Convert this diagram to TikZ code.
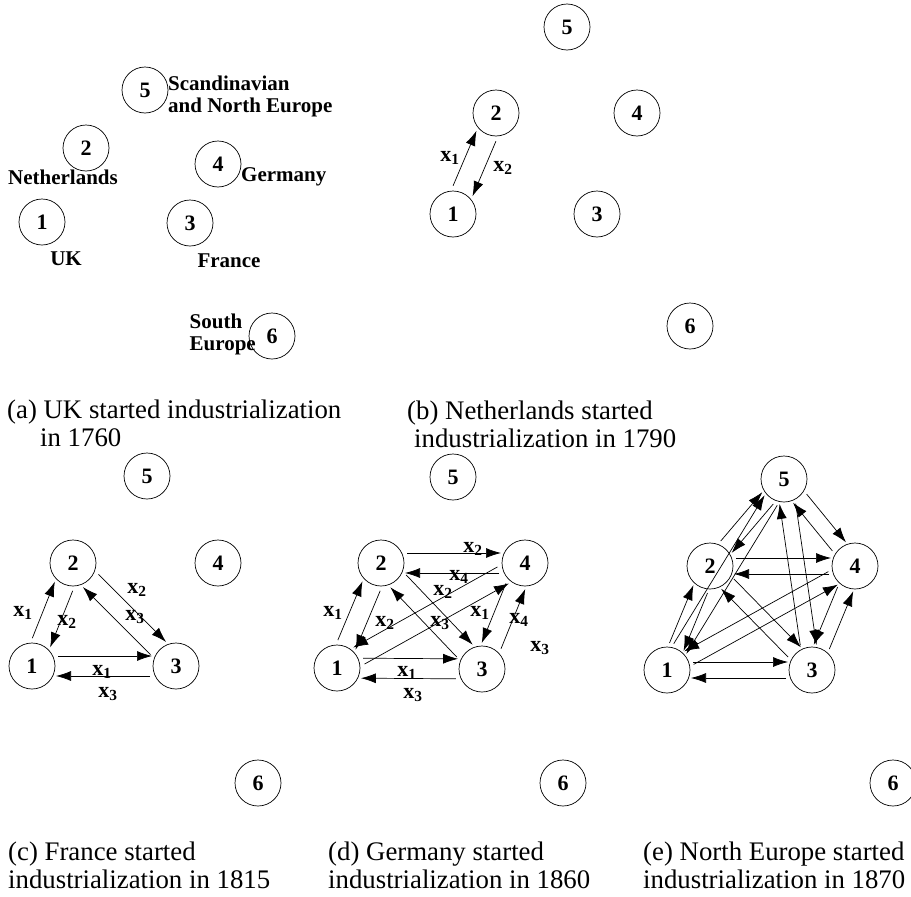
\documentclass[tikz,border=0pt]{standalone}
\usepackage{fontspec}
\setmainfont{Liberation Serif}
\usetikzlibrary{arrows.meta,calc}

\newcommand{\xs}[1]{\textbf{x}\textsubscript{\textbf{#1}}}
% arrow from #2 to #3, kept #4 (pt) to the left of the centre line
\newcommand{\flow}[4][]{\draw[flow,#1] ($(#2)!#4pt!90:(#3)$) -- ($(#3)!#4pt!-90:(#2)$);}

\begin{document}
\begin{tikzpicture}[x=1pt,y=-1pt,
  country/.style={circle,draw,line width=0.7pt,minimum size=46pt,inner sep=0pt,font=\fontsize{22}{22}\selectfont\bfseries},
  flow/.style={-{Latex[length=15pt,width=10pt]},line width=0.7pt,shorten <=26pt,shorten >=24pt},
  lab/.style={font=\fontsize{22}{22}\selectfont,inner sep=0pt},
  region/.style={font=\fontsize{21}{22}\selectfont\bfseries,inner sep=0pt,align=left},
  caption/.style={font=\fontsize{26.8}{28}\selectfont,align=left,anchor=west,inner sep=0pt}]
  \useasboundingbox (0,0) rectangle (911,897);
  % ---------- (a) UK
  \node[country] (a5) at (145,90) {5};
  \node[country] (a2) at (86,148) {2};
  \node[country] (a4) at (218,164) {4};
  \node[country] (a1) at (42,222) {1};
  \node[country] (a3) at (190,223) {3};
  \node[country] (a6) at (272,336) {6};
  \node[region,anchor=west] (ra5) at (168,96) {Scandinavian\\and North Europe};
  \node[region] (ra2) at (63,177) {Netherlands};
  \node[region,anchor=west] (ra4) at (241,177) {Germany};
  \node[region] (ra1) at (66,259) {UK};
  \node[region] (ra3) at (229,261) {France};
  \node[region,anchor=east] (ra6) at (256,334) {South\\Europe};
  \node[caption] (capa) at (7,423) {(a) UK started industrialization\\\hspace*{33pt}in 1760};
  % ---------- (b) Netherlands
  \node[country] (b5) at (567,27) {5};
  \node[country] (b2) at (496,113) {2};
  \node[country] (b4) at (637,113) {4};
  \node[country] (b1) at (453,214) {1};
  \node[country] (b3) at (597,214) {3};
  \node[country] (b6) at (690,326) {6};
  \flow{b1}{b2}{11} \flow{b2}{b1}{11}
  \node[lab] (bl1) at (450,158) {\xs1};
  \node[lab] (bl2) at (503,168) {\xs2};
  \node[caption] (capb) at (407,424) {(b) Netherlands started\\\hspace*{7pt}industrialization in 1790};
  % ---------- (c) France
  \node[country] (c5) at (147,476) {5};
  \node[country] (c2) at (73,563) {2};
  \node[country] (c4) at (218,563) {4};
  \node[country] (c1) at (32,666) {1};
  \node[country] (c3) at (176,666) {3};
  \node[country] (c6) at (258,783) {6};
  \flow{c1}{c2}{10} \flow{c2}{c1}{10}
  \flow{c2}{c3}{10} \flow{c3}{c2}{10}
  \flow{c1}{c3}{10} \flow{c3}{c1}{10}
  \node[lab] (cl1) at (23,613) {\xs1};
  \node[lab] (cl2) at (67,622) {\xs2};
  \node[lab] (cl3) at (137,590) {\xs2};
  \node[lab] (cl4) at (135,617) {\xs3};
  \node[lab] (cl5) at (102,672) {\xs1};
  \node[lab] (cl6) at (108,694) {\xs3};
  \node[caption] (capc) at (8,865) {(c) France started\\industrialization in 1815};
  % ---------- (d) Germany
  \node[country] (d5) at (453,477) {5};
  \node[country] (d2) at (381,563) {2};
  \node[country] (d4) at (525,563) {4};
  \node[country] (d1) at (337,668) {1};
  \node[country] (d3) at (482,669) {3};
  \node[country] (d6) at (563,783) {6};
  \flow{d1}{d2}{10} \flow{d2}{d1}{10}
  \flow{d2}{d4}{10} \flow{d4}{d2}{10}
  \flow{d2}{d3}{10} \flow{d3}{d2}{10}
  \flow{d1}{d3}{10} \flow{d3}{d1}{10}
  \flow{d4}{d1}{-10} \flow{d1}{d4}{-10}
  \flow{d4}{d3}{-10} \flow{d3}{d4}{-10}
  \node[lab] (dl1) at (473,549) {\xs2};
  \node[lab] (dl2) at (459,577) {\xs4};
  \node[lab] (dl3) at (333,613) {\xs1};
  \node[lab] (dl4) at (385,623) {\xs2};
  \node[lab] (dl5) at (443,592) {\xs2};
  \node[lab] (dl6) at (440,623) {\xs3};
  \node[lab] (dl7) at (480,613) {\xs1};
  \node[lab] (dl8) at (519,620) {\xs4};
  \node[lab] (dl9) at (540,648) {\xs3};
  \node[lab] (dl10) at (407,673) {\xs1};
  \node[lab] (dl11) at (413,695) {\xs3};
  \node[caption] (capd) at (328,865) {(d) Germany started\\industrialization in 1860};
  % ---------- (e) North Europe
  \node[country] (e5) at (784,479) {5};
  \node[country] (e2) at (710,566) {2};
  \node[country] (e4) at (855,566) {4};
  \node[country] (e1) at (667,670) {1};
  \node[country] (e3) at (812,670) {3};
  \node[country] (e6) at (893,783) {6};
  \flow{e1}{e2}{8} \flow{e2}{e1}{8}
  \flow{e1}{e3}{8} \flow{e3}{e1}{8}
  \flow{e1}{e4}{-8} \flow{e4}{e1}{-8}
  \flow{e1}{e5}{8} \flow{e5}{e1}{8}
  \flow{e2}{e3}{8} \flow{e3}{e2}{8}
  \flow{e2}{e4}{8} \flow{e4}{e2}{8}
  \flow{e2}{e5}{8} \flow{e5}{e2}{8}
  \flow{e3}{e4}{-8} \flow{e4}{e3}{-8}
  \flow{e3}{e5}{8} \flow{e5}{e3}{8}
  \flow{e4}{e5}{8} \flow{e5}{e4}{8}
  \node[caption] (cape) at (643,865) {(e) North Europe started\\industrialization in 1870};
\end{tikzpicture}
\end{document}
